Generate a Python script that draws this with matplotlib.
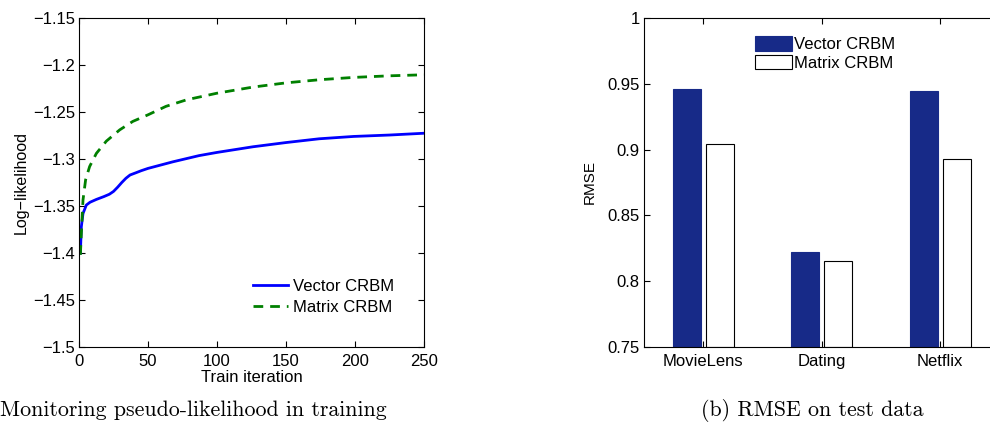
import matplotlib
matplotlib.use("Agg")
from matplotlib import pyplot as plt

plt.rcParams['font.family'] = ['Liberation Sans', 'DejaVu Sans']
plt.rcParams['font.size'] = 12

# left panel: log-likelihood during training
iters = [1, 1.7, 2.9, 5.3, 8, 12.6, 18, 22, 25, 28, 31, 34, 37, 41.5, 45, 50, 68, 87, 100,
         126, 150, 174, 199, 225, 250]
vector_ll = [-1.400, -1.372, -1.358, -1.349, -1.346, -1.343, -1.340, -1.3375, -1.3345, -1.330,
             -1.325, -1.3205, -1.317, -1.3145, -1.3125, -1.310, -1.303, -1.2964, -1.293,
             -1.287, -1.2825, -1.2785, -1.276, -1.2745, -1.2726]
iters_m = [1, 1.7, 2.9, 4.8, 7.7, 12.6, 19.8, 29.5, 39, 50, 63, 78, 100, 126, 150, 174, 199,
           225, 250]
matrix_ll = [-1.402, -1.379, -1.3436, -1.322, -1.308, -1.294, -1.281, -1.269, -1.260, -1.253,
             -1.244, -1.237, -1.230, -1.2235, -1.219, -1.2157, -1.2132, -1.2115, -1.2104]

# right panel: RMSE on test data
datasets = ["MovieLens", "Dating", "Netflix"]
vector_rmse = [0.946, 0.822, 0.9445]
matrix_rmse = [0.904, 0.8156, 0.893]

W, H = 990, 432
fig = plt.figure(figsize=(W / 100, H / 100), dpi=100)

ax1 = fig.add_axes([79 / W, 1 - 347 / H, 345 / W, 329 / H])
ax1.plot(iters, vector_ll, color="blue", lw=2, label="Vector CRBM")
ax1.plot(iters_m, matrix_ll, color="green", lw=2, ls=(0, (3.5, 2.5)), label="Matrix CRBM")
ax1.set_xlim(0, 250)
ax1.set_ylim(-1.5, -1.15)
ax1.set_xticks([0, 50, 100, 150, 200, 250])
ax1.set_yticks([-1.5, -1.45, -1.4, -1.35, -1.3, -1.25, -1.2, -1.15])
ax1.set_yticklabels(["\u22121.5", "\u22121.45", "\u22121.4", "\u22121.35", "\u22121.3",
                     "\u22121.25", "\u22121.2", "\u22121.15"])
ax1.tick_params(direction="in", top=True, right=True, length=4, labelsize=12, pad=3)
ax1.tick_params(axis="x", pad=5)
ax1.set_xlabel("Train iteration", fontsize=12, labelpad=1)
ax1.set_ylabel("Log\u2212likelihood", fontsize=11.5, labelpad=3)
ax1.legend(loc="upper left", frameon=False, bbox_to_anchor=(0.46, 0.253),
           handlelength=2.1, handletextpad=0.3, labelspacing=0.35, fontsize=12)

ax2 = fig.add_axes([644 / W, 1 - 347 / H, 355.5 / W, 329 / H])
xs = [1, 2, 3]
bw = 0.235
ax2.bar([x - 0.14 for x in xs], [v - 0.75 for v in vector_rmse], bw, bottom=0.75,
        color="#172a88", edgecolor="#172a88", lw=0.8, label="Vector CRBM")
ax2.bar([x + 0.14 for x in xs], [v - 0.75 for v in matrix_rmse], bw, bottom=0.75,
        color="white", edgecolor="black", lw=0.8, label="Matrix CRBM")
ax2.set_xlim(0.5, 3.5)
ax2.set_ylim(0.75, 1.0)
ax2.set_xticks(xs)
ax2.set_xticklabels(datasets)
ax2.set_yticks([0.75, 0.8, 0.85, 0.9, 0.95, 1.0])
ax2.set_yticklabels(["0.75", "0.8", "0.85", "0.9", "0.95", "1"])
ax2.tick_params(direction="in", top=True, right=True, length=4, labelsize=12, pad=3)
ax2.tick_params(axis="x", pad=5)
ax2.set_ylabel("RMSE", fontsize=11, labelpad=8)
ax2.legend(loc="upper left", frameon=False, bbox_to_anchor=(0.27, 0.99),
           handlelength=2.2, handleheight=0.95, handletextpad=0.15, labelspacing=0.15,
           fontsize=12)

fig.text(0.0, 1 - 410 / H, "Monitoring pseudo-likelihood in training", family="cmr10",
         fontsize=15.8, ha="left", va="center")
fig.text(812 / W, 1 - 410 / H, "(b) RMSE on test data", family="cmr10",
         fontsize=15.8, ha="center", va="center")

fig.savefig("out.png", dpi=100)
